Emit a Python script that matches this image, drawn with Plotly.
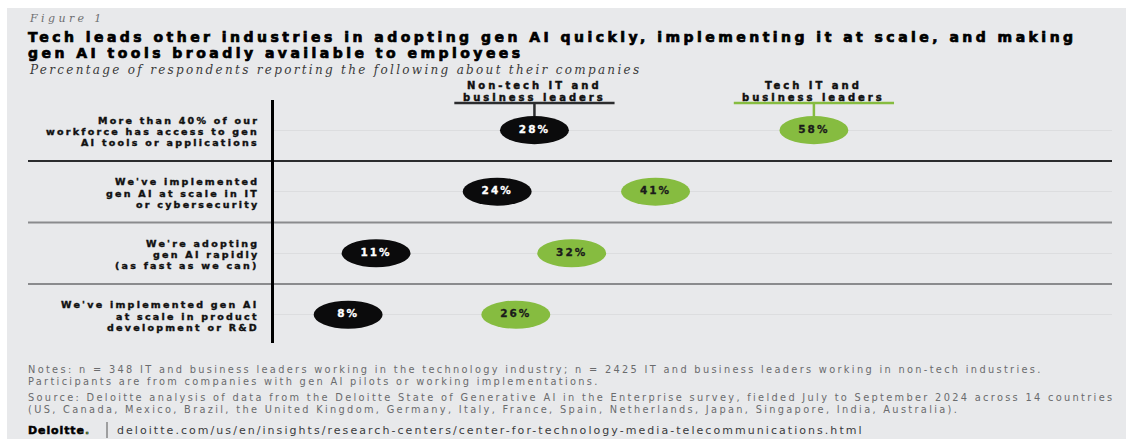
import plotly.graph_objects as go

W, H = 1126, 439

# ---- data ----
row_labels = [
    ["More than 40% of our", "workforce has access to gen", "AI tools or applications"],
    ["We've implemented", "gen AI at scale in IT", "or cybersecurity"],
    ["We're adopting", "gen AI rapidly", "(as fast as we can)"],
    ["We've implemented gen AI", "at scale in product", "development or R&D"],
]
nontech = [28, 24, 11, 8]
tech = [58, 41, 32, 26]
series_names = ["Non-tech IT and<br>business leaders", "Tech IT and<br>business leaders"]

figure_label = "Figure 1"
title_lines = [
    "Tech leads other industries in adopting gen AI quickly, implementing it at scale, and making",
    "gen AI tools broadly available to employees",
]
subtitle = "Percentage of respondents reporting the following about their companies"
footer_lines = [
    "Notes: n = 348 IT and business leaders working in the technology industry; n = 2425 IT and business leaders working in non-tech industries.",
    "Participants are from companies with gen AI pilots or working implementations.",
    "Source: Deloitte analysis of data from the Deloitte State of Generative AI in the Enterprise survey, fielded July to September 2024 across 14 countries",
    "(US, Canada, Mexico, Brazil, the United Kingdom, Germany, Italy, France, Spain, Netherlands, Japan, Singapore, India, Australia).",
]
url = "deloitte.com/us/en/insights/research-centers/center-for-technology-media-telecommunications.html"

# ---- style ----
BG = "#e8e9eb"
BLACK = "#0b0b0c"
GREEN = "#86bc40"
FONT = "DejaVu Sans"
SERIF = "DejaVu Serif"


def px_x(p):
    return p / W


def px_y(p):
    return 1 - p / H


def sp(text, ls, stroke=None, sw=0.0):
    style = "letter-spacing:%.2fpx" % ls
    if stroke:
        style += ";stroke:%s;stroke-width:%.2fpx" % (stroke, sw)
    return "<span style='%s'>%s</span>" % (style, text)


rows = list(range(len(row_labels)))

fig = go.Figure()

# bubble labels
fig.add_trace(go.Scatter(
    x=nontech, y=rows, mode="text", text=[sp(f"{v}%", 2.0, "white", 0.3) for v in nontech],
    textfont=dict(family=FONT, size=10.5, color="white", weight="bold"),
    hoverinfo="skip", showlegend=False, cliponaxis=False))
fig.add_trace(go.Scatter(
    x=tech, y=rows, mode="text", text=[sp(f"{v}%", 2.0, "#1b1b1b", 0.3) for v in tech],
    textfont=dict(family=FONT, size=10.5, color="#1b1b1b", weight="bold"),
    hoverinfo="skip", showlegend=False, cliponaxis=False))

shapes = []
# gray card background
shapes.append(dict(type="rect", xref="paper", yref="paper", x0=px_x(7), x1=1, y0=0, y1=px_y(8),
                   fillcolor=BG, line=dict(width=0), layer="below"))

# row separators
sep_colors = ["#2b2c2e", "#8a8b8d", "#8a8b8d"]
for i in range(len(rows) - 1):
    shapes.append(dict(type="line", xref="paper", yref="y", x0=px_x(28), x1=px_x(1112),
                       y0=i + 0.5, y1=i + 0.5, line=dict(color=sep_colors[i], width=2), layer="between"))

# ellipses
RX, RY = 3.7, 0.228
for vals, col in [(nontech, BLACK), (tech, GREEN)]:
    for i, v in enumerate(vals):
        shapes.append(dict(type="circle", xref="x", yref="y", x0=v - RX, x1=v + RX,
                           y0=i - RY, y1=i + RY, fillcolor=col, line=dict(width=0), layer="between"))

# series header underline + tick
for v, col in [(nontech[0], "#2b2c2e"), (tech[0], GREEN)]:
    shapes.append(dict(type="line", xref="x", yref="y", x0=v - 8.6, x1=v + 8.6, y0=-0.44, y1=-0.44,
                       line=dict(color=col, width=2.5), layer="between"))
    shapes.append(dict(type="line", xref="x", yref="y", x0=v, x1=v, y0=-0.44, y1=-RY,
                       line=dict(color=col, width=2.5), layer="between"))

# footer separator bar
shapes.append(dict(type="line", xref="paper", yref="paper", x0=px_x(107), x1=px_x(107),
                   y0=px_y(422), y1=px_y(438), line=dict(color="#555", width=1)))

annotations = []


def ann(text, x, y, size, color, xref="paper", yref="paper", xanchor="left", family=FONT,
        weight="normal", style="normal"):
    annotations.append(dict(text=text, x=x, y=y, xref=xref, yref=yref, xanchor=xanchor,
                            yanchor="middle", showarrow=False, borderpad=0,
                            font=dict(family=family, size=size, color=color, weight=weight, style=style)))


ann(sp(figure_label, 3.4), px_x(28), px_y(19), 11, "#6d6e70", family=SERIF, style="italic")
for k, line in enumerate(title_lines):
    ann(sp(line, 3.47, "#000", 0.7), px_x(27), px_y(37 + 16.4 * k), 14, "#000", weight="bold")
ann(sp(subtitle, 2.3), px_x(28), px_y(70), 12, "#3a3a3a", family=SERIF, style="italic")

# series headers
for v, name in [(nontech[0], series_names[0]), (tech[0], series_names[1])]:
    for k, part in enumerate(name.split("<br>")):
        ann(sp(part, 3.0, "#111", 0.45), v, px_y(85.5 + 11.7 * k), 10, "#111", xref="x",
            xanchor="center", weight="bold")

# row labels
PITCH = 11.2 / 61.5
for i, lines in enumerate(row_labels):
    n = len(lines)
    for k, line in enumerate(lines):
        ann(sp(line, 2.25, "#111", 0.4), px_x(260), i + (k - (n - 1) / 2) * PITCH + 0.024, 9.5, "#111",
            yref="y", xanchor="right", weight="bold")

# footer
foot_y = [369.5, 381, 397.5, 409]
for line, yy in zip(footer_lines, foot_y):
    ann(sp(line, 2.32), px_x(27), px_y(yy), 9.8, "#6a6b6d")
ann(sp("Deloitte<span style='color:%s'>.</span>" % GREEN, 0.9, "#000", 0.5), px_x(27), px_y(430), 11,
    "#000", weight="bold")
ann(sp(url, 2.05), px_x(116), px_y(430), 11, "#3a3b3d")

fig.update_layout(
    width=W, height=H, margin=dict(l=0, r=0, t=0, b=0),
    paper_bgcolor="white", plot_bgcolor="rgba(0,0,0,0)",
    shapes=shapes, annotations=annotations, showlegend=False,
    xaxis=dict(domain=[px_x(273.6), px_x(1112)], range=[0, 90], visible=False, fixedrange=True),
    yaxis=dict(domain=[px_y(343), px_y(100)], range=[3.46, -0.49], tickvals=rows,
               showticklabels=False, ticks="", showgrid=True, gridcolor="#dcdddf", gridwidth=1,
               zeroline=False, showline=True, linecolor="#000", linewidth=3, fixedrange=True),
)

fig.write_html("out.html")
